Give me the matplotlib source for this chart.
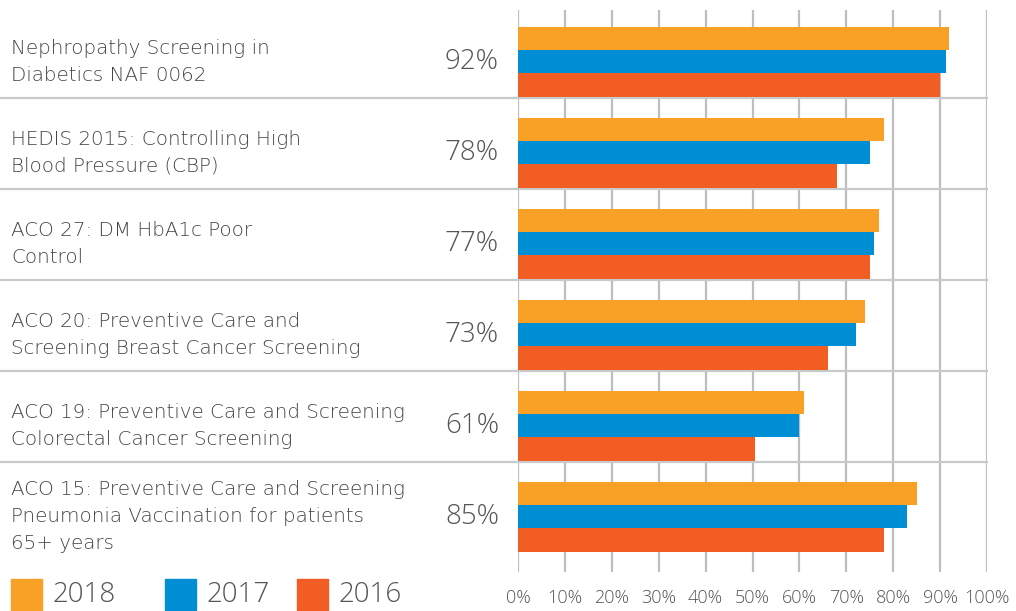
import numpy as np
import matplotlib
matplotlib.use("Agg")
import matplotlib.pyplot as plt
import matplotlib.transforms as mtransforms
from matplotlib.patches import Rectangle
from matplotlib.ticker import FuncFormatter

# data
measures = [
    "Nephropathy Screening in\nDiabetics NAF 0062",
    "HEDIS 2015: Controlling High\nBlood Pressure (CBP)",
    "ACO 27: DM HbA1c Poor\nControl",
    "ACO 20: Preventive Care and\nScreening Breast Cancer Screening",
    "ACO 19: Preventive Care and Screening\nColorectal Cancer Screening",
    "ACO 15: Preventive Care and Screening\nPneumonia Vaccination for patients\n65+ years",
]
headline = ["92%", "78%", "77%", "73%", "61%", "85%"]
years = ["2018", "2017", "2016"]
vals_2018 = [92, 78, 77, 74, 61, 85]
vals_2017 = [91.3, 75, 76, 72, 60, 83]
vals_2016 = [90, 68, 75, 66, 50.5, 78]
x_ticks = [0, 10, 20, 30, 40, 50, 60, 70, 80, 90, 100]

colors = ["#F9A126", "#008FD5", "#F15D22"]
text_col = "#555555"
grid_col = "#BDBEC0"

plt.rcParams['font.family'] = ['Open Sans', 'DejaVu Sans']

W, H = 1016, 611
fig = plt.figure(figsize=(W / 100, H / 100), dpi=100)
ax = fig.add_axes([518 / W, 1 - 572 / H, 469 / W, 562 / H])

n = len(measures)
bar_h = 0.255
offsets = [0.22, 0.22 + bar_h, 0.22 + 2 * bar_h]
series = [vals_2018, vals_2017, vals_2016]
idx = np.arange(n)
for k, vals in enumerate(series):
    ax.barh(idx + offsets[k], vals, height=bar_h, align='edge',
            color=colors[k], label=years[k], zorder=3)

ax.set_xlim(0, 100)
ax.set_ylim(6.21, 0.033)

# vertical grid
ax.set_xticks(x_ticks)
ax.xaxis.set_major_formatter(FuncFormatter(lambda v, p: f"{int(v)}%"))
ax.grid(axis='x', color=grid_col, linewidth=1.6, zorder=0)
ax.tick_params(axis='x', length=0, pad=12, labelsize=13, labelcolor=text_col)
for lab in ax.get_xticklabels():
    lab.set_fontweight('light')
ax.tick_params(axis='y', left=False, labelleft=False)
for s in ax.spines.values():
    s.set_visible(False)

# separators between groups, running under the labels too
for i in range(1, n):
    ax.axhline(i, xmin=-518 / 469, xmax=1, color="#C8C9CB", linewidth=1.6,
               clip_on=False, zorder=2)

trans = mtransforms.blended_transform_factory(fig.transFigure, ax.transData)
for i in range(n):
    yc = i + 0.22 + 1.5 * bar_h
    ax.text(11 / W, yc, measures[i], transform=trans, ha='left', va='center',
            fontsize=14.3, color="#444444", linespacing=1.55,
            family='DejaVu Sans', fontweight='light')
    ax.text(499 / W, yc, headline[i], transform=trans, ha='right', va='center',
            fontsize=20, color=text_col, fontweight='light')

# legend squares along the bottom
leg_x = [11, 165, 297]
for k in range(3):
    fig.add_artist(Rectangle((leg_x[k] / W, 1 / H), 31 / W, 31 / H,
                             transform=fig.transFigure, color=colors[k]))
    fig.text((leg_x[k] + 41) / W, 16 / H, years[k], ha='left', va='center',
             fontsize=20, color=text_col, fontweight='light')

fig.savefig("out.png", dpi=100)
